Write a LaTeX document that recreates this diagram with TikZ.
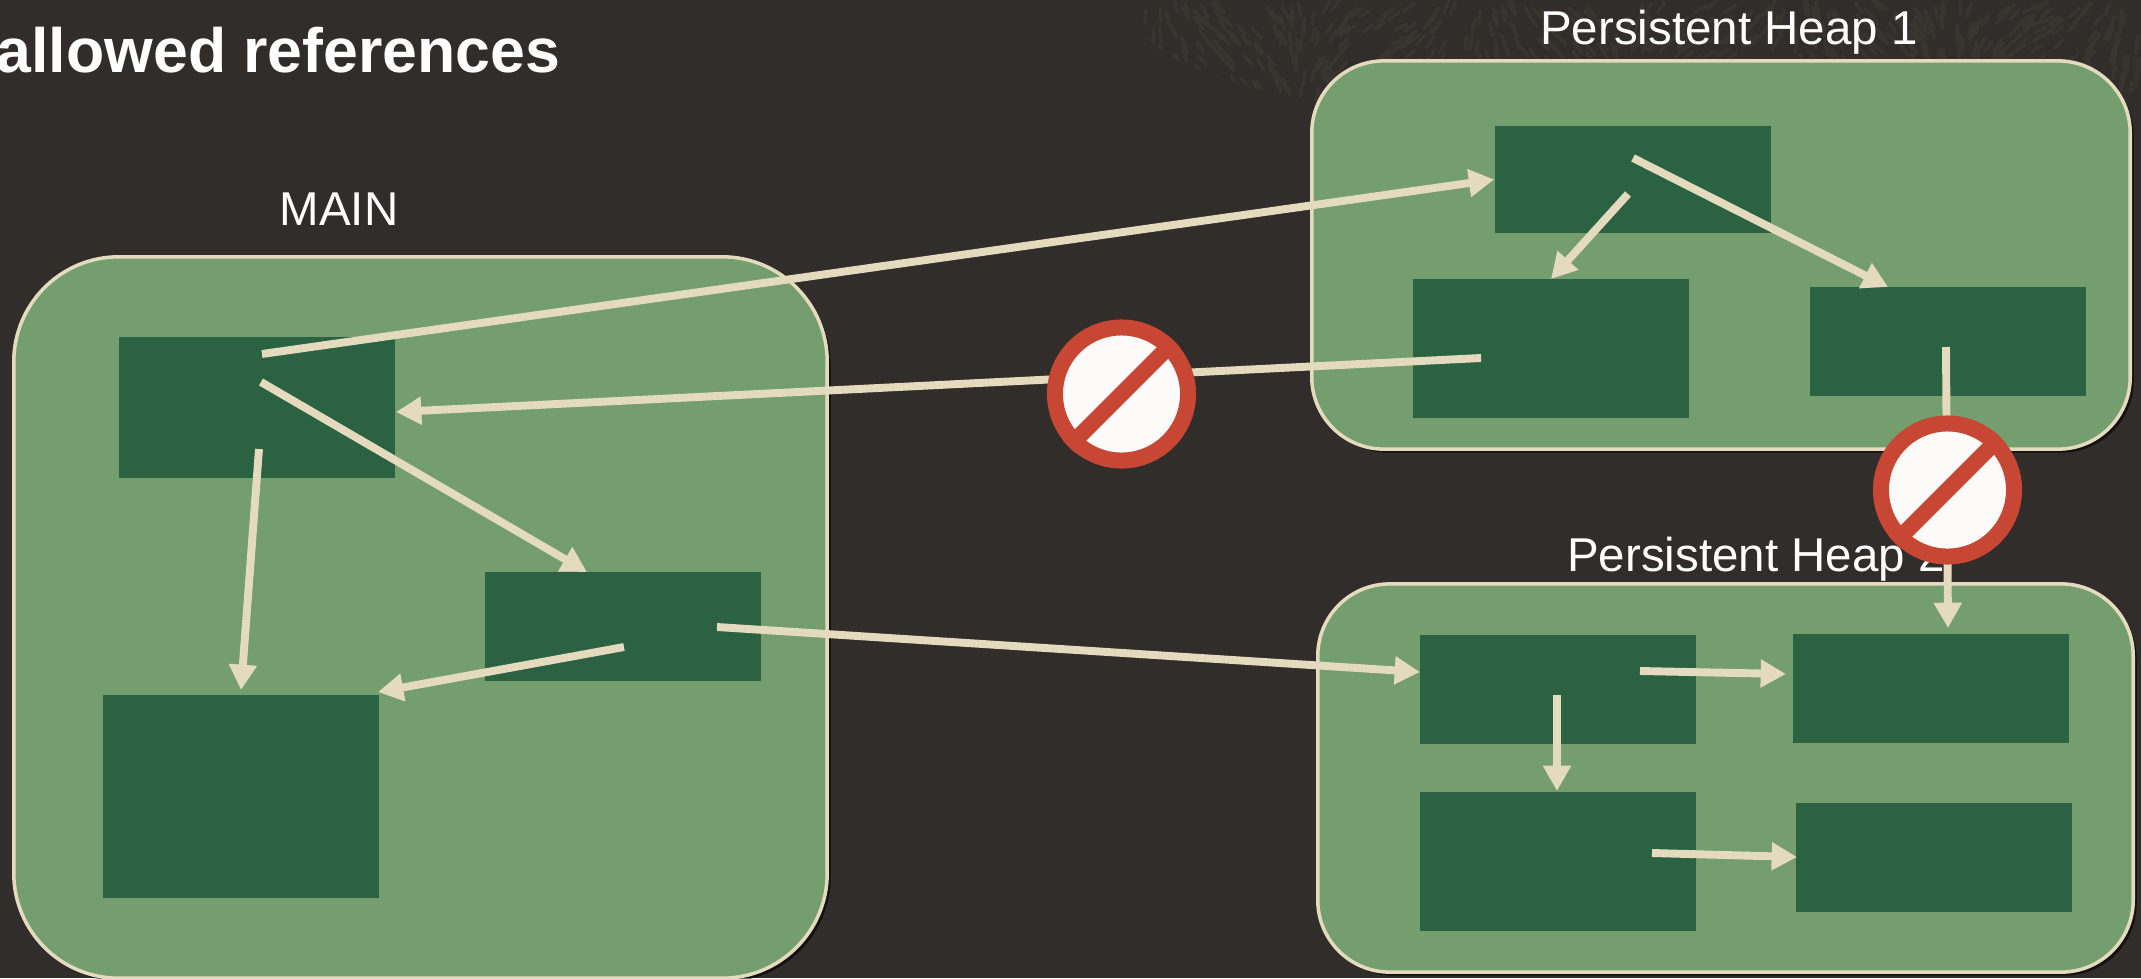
\documentclass[tikz,border=0pt]{standalone}
\usepackage{fontspec}
\setmainfont{Liberation Sans}
\usetikzlibrary{arrows.meta,shadows}
\definecolor{slatebg}{HTML}{312D2A}
\definecolor{grainbg}{HTML}{38342F}
\definecolor{heapgreen}{HTML}{759E6E}
\definecolor{boxgreen}{HTML}{2B6242}
\definecolor{creamline}{HTML}{E4DBBE}
\definecolor{signred}{HTML}{C74634}
\definecolor{signwhite}{HTML}{FCFBFA}
\begin{document}
\begin{tikzpicture}[
    x=0.01cm, y=-0.01cm,
    heap_style/.style={draw=creamline, fill=heapgreen, line width=1pt, rounded corners=0.72cm, inner sep=0pt,
        drop shadow={shadow xshift=1pt, shadow yshift=-1pt, opacity=0.6, fill=black}},
    box_style/.style={fill=boxgreen, inner sep=0pt},
    ref_style/.style={draw=creamline, line width=2.25pt, -{Triangle[length=7.2pt, width=7.6pt]}},
    label_style/.style={text=white, inner sep=0pt, font=\fontsize{13.5}{16}\selectfont},
    sign_style/.style={circle, draw=signred, fill=signwhite, line width=0.16cm, minimum size=1.33cm, inner sep=0pt},
    slash_style/.style={draw=signred, line width=0.16cm}
]
\useasboundingbox (0,0) rectangle (2141,978);
\fill[slatebg] (0,0) rectangle (2141,978);
% grain behind the top right corner
\begin{scope}
    \clip (1700,20) ellipse [x radius=560, y radius=112];
    \pgfmathsetseed{41}
    \foreach \i in {1,...,950} {
        \pgfmathsetmacro{\gx}{1140+rnd*1001}
        \pgfmathsetmacro{\gy}{rnd*130}
        \pgfmathsetmacro{\ga}{90+50*sin(\gx*1.1)+15*rnd}
        \draw[grainbg, line width=1pt, line cap=round] (\gx,\gy) -- ++(\ga:13);
    }
\end{scope}
\node[font=\fontsize{17.8}{20}\selectfont\bfseries, text=white, anchor=base east, inner sep=0pt] (title) at (561,72) {allowed references};
% Heaps
\node[heap_style, rounded corners=1.05cm, minimum width=8.13cm, minimum height=7.21cm] (mainheap) at (420.5,617.5) {};
\node[heap_style, minimum width=8.18cm, minimum height=3.88cm] (heap1) at (1721,255) {};
\node[heap_style, minimum width=8.15cm, minimum height=3.88cm] (heap2) at (1725.5,778) {};
\node[label_style] (mainlabel) at (339,209) {MAIN};
\node[label_style] (heap1label) at (1729,32) {Persistent Heap 1};
\node[label_style] (heap2label) at (1756,559) {Persistent Heap 2};
% Boxes
\foreach \name/\cx/\cy/\w/\h in {
    ma/257/407.5/2.76/1.41, mb/623/626.5/2.76/1.09, mc/241/796.5/2.76/2.03,
    pa/1633/179.5/2.76/1.07, pb/1551/348.5/2.76/1.39, pc/1948/341.5/2.76/1.09,
    qa/1558/689.5/2.76/1.09, qb/1931/688.5/2.76/1.09, qc/1558/861.5/2.76/1.39, qd/1934/857.5/2.76/1.09} {
    \node[box_style, minimum width=\w cm, minimum height=\h cm] (\name) at (\cx,\cy) {};
}
% Free ends of the references
\coordinate (s1) at (262,354);
\coordinate (s2) at (261,382);
\coordinate (s3) at (259,449);
\coordinate (s4) at (624,647);
\coordinate (s5) at (717,627);
\coordinate (s6) at (1481,358);
\coordinate (s7) at (1628,194);
\coordinate (s8) at (1633,158);
\coordinate (s9) at (1946,347);
\coordinate (s10) at (1640,671);
\coordinate (s11) at (1557,695);
\coordinate (s12) at (1652,853);
\coordinate (e2) at (587,572);
\coordinate (e3) at (241,690);
\coordinate (e4) at (378,692);
\coordinate (e5) at (1420,672);
\coordinate (e6) at (396,412);
\coordinate (e7) at (1551,279);
\coordinate (e8) at (1888,287);
\coordinate (e9) at (1948,628);
\coordinate (e10) at (1786,674);
\coordinate (e11) at (1557,791);
\coordinate (e12) at (1797,857);
% References
\draw[ref_style] (s1) -- (pa.west);
\foreach \k in {2,...,12} {
    \draw[ref_style] (s\k) -- (e\k);
}
% Forbidden signs
\node[sign_style] (nosign1) at (1121.5,394) {};
\draw[slash_style] (nosign1.45) -- (nosign1.225);
\node[sign_style] (nosign2) at (1947.5,490) {};
\draw[slash_style] (nosign2.45) -- (nosign2.225);
\end{tikzpicture}
\end{document}
